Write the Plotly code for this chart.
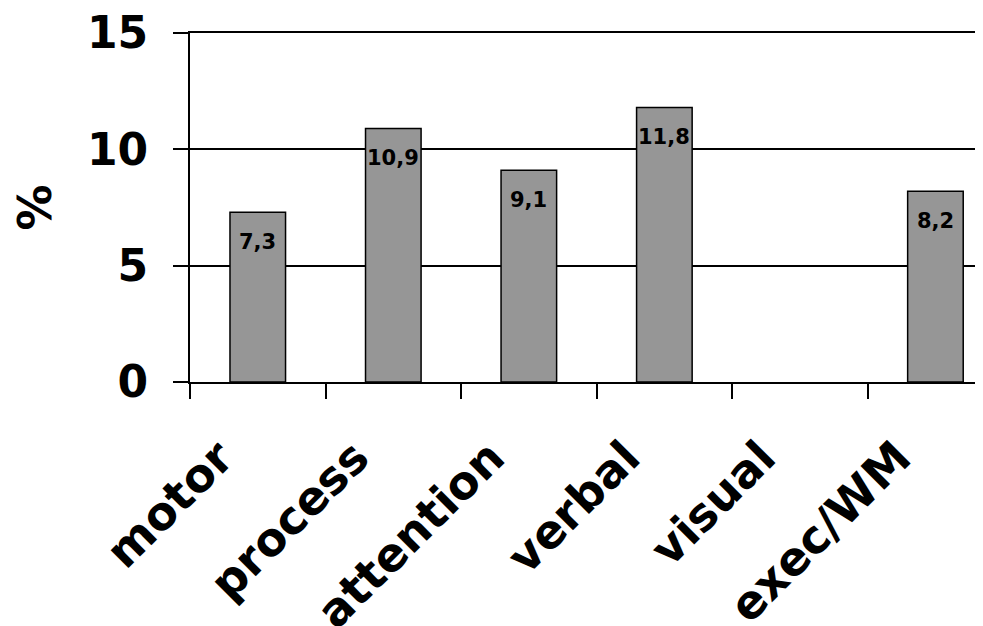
import plotly.graph_objects as go

categories = ["motor", "process", "attention", "verbal", "visual", "exec/WM"]
values = [7.3, 10.9, 9.1, 11.8, None, 8.2]
y_ticks = [0, 5, 10, 15]

FONT = "DejaVu Sans"

fig = go.Figure()
fig.add_trace(go.Bar(
    x=categories, y=values, width=0.41,
    marker=dict(color="#969696", line=dict(color="black", width=1.5)),
    hoverinfo="skip",
))

for c, v in zip(categories, values):
    if v:
        fig.add_annotation(
            x=c, y=v, text="<b>" + str(v).replace(".", ",") + "</b>",
            showarrow=False, yanchor="top", yshift=-16,
            font=dict(family=FONT, size=21, color="black"),
        )

fig.update_layout(
    width=983, height=626,
    margin=dict(l=182, r=0, t=25, b=252),
    paper_bgcolor="white", plot_bgcolor="white",
    showlegend=False,
    font=dict(family=FONT, color="black"),
)
fig.update_xaxes(
    range=[-0.5, 5.41], tickson="boundaries", ticks="outside", ticklen=15,
    tickwidth=1.5, tickcolor="black", showline=True, linecolor="black",
    linewidth=2, mirror=True, showgrid=False, tickangle=-45,
    tickfont=dict(family=FONT, size=46, color="black"),
    ticktext=["<b>" + c + "</b>" for c in categories], tickvals=categories,
    ticklabelshift=-38, ticklabelstandoff=28, ticklabeloverflow="allow",
    automargin=False,
)
fig.update_yaxes(
    range=[0, 15], tickvals=y_ticks,
    ticktext=["<b>" + str(t) + "</b>" for t in y_ticks],
    ticks="outside", ticklen=15, tickwidth=1.5, tickcolor="black",
    showline=True, linecolor="black", linewidth=2,
    showgrid=True, gridcolor="black", gridwidth=1.5, zeroline=False,
    tickfont=dict(family=FONT, size=44, color="black"),
    ticklabelstandoff=16, ticklabeloverflow="allow", automargin=False,
    title=dict(text="<b>%</b>", font=dict(family=FONT, size=46, color="black"), standoff=28),
)

fig.write_html("out.html")
